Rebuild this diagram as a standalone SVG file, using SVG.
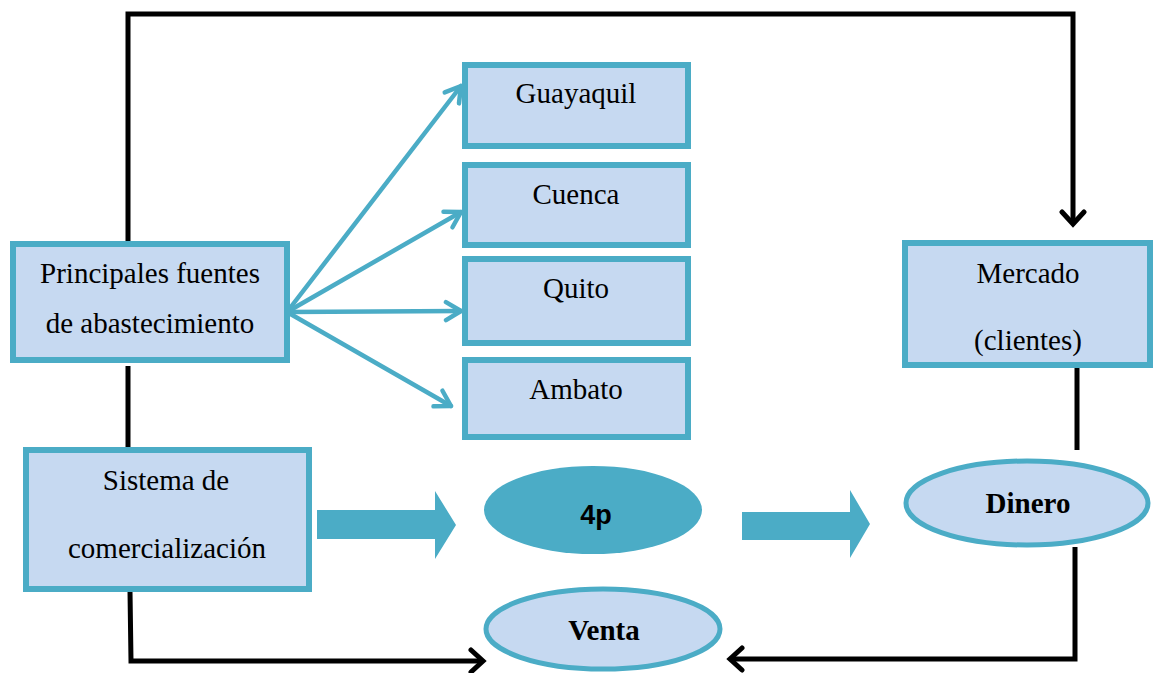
<svg xmlns="http://www.w3.org/2000/svg" width="1154" height="673" viewBox="0 0 1154 673">
  <style>
    .box { fill: #C6D9F1; stroke: #4BACC6; stroke-width: 6; }
    .oval { fill: #C6D9F1; stroke: #4BACC6; stroke-width: 5; }
    .lbl { font-family: "Liberation Serif", "Times New Roman", serif; font-size: 29px; fill: #000; text-anchor: middle; }
    .bold { font-weight: bold; font-size: 29px; }
    .sans { font-family: "Liberation Sans", Arial, sans-serif; font-weight: bold; font-size: 27px; fill: #000; text-anchor: middle; }
    .flow { fill: none; stroke: #000; stroke-width: 5; stroke-linejoin: miter; }
    .feed { fill: none; stroke: #4BACC6; stroke-width: 4.5; stroke-linecap: round; }
    .block { fill: #4BACC6; }
  </style>
  <defs>
    <marker id="blackHead" viewBox="-16 -14 20 28" markerWidth="20" markerHeight="28" refX="0" refY="0" orient="auto" markerUnits="userSpaceOnUse">
      <path d="M-12,-11 L0,0 L-12,11" fill="none" stroke="#000" stroke-width="5" stroke-linecap="round" stroke-linejoin="miter"/>
    </marker>
    <marker id="blueHead" viewBox="-18 -14 22 28" markerWidth="22" markerHeight="28" refX="0" refY="0" orient="auto" markerUnits="userSpaceOnUse">
      <path d="M-15,-9 L0,0 L-15,9" fill="none" stroke="#4BACC6" stroke-width="4.5" stroke-linecap="round" stroke-linejoin="round"/>
    </marker>
  </defs>

  <!-- connectors -->
  <g id="connectors">
    <!-- loop from sources over the top to the market -->
    <polyline class="flow" points="128,241 128,14 1073,14 1073,224" marker-end="url(#blackHead)"/>
    <!-- sources down to commercialisation system -->
    <line class="flow" x1="128" y1="366" x2="128" y2="449"/>
    <!-- commercialisation system to sale -->
    <polyline class="flow" points="130,591 131,661 483,661" marker-end="url(#blackHead)"/>
    <!-- market down to money -->
    <line class="flow" x1="1077" y1="367" x2="1077" y2="450"/>
    <!-- money back to sale -->
    <polyline class="flow" points="1075,547 1075,659 730,659" marker-end="url(#blackHead)"/>

    <!-- supply cities -->
    <line class="feed" x1="287" y1="312" x2="461" y2="86" marker-end="url(#blueHead)"/>
    <line class="feed" x1="287" y1="312" x2="461" y2="212" marker-end="url(#blueHead)"/>
    <line class="feed" x1="287" y1="312" x2="461" y2="311" marker-end="url(#blueHead)"/>
    <line class="feed" x1="287" y1="312" x2="451" y2="406" marker-end="url(#blueHead)"/>

    <!-- block arrows -->
    <polygon class="block" points="317,510 435,510 435,491 456,525 435,559 435,539 317,539"/>
    <polygon class="block" points="742,512 850,512 850,490 870,524 850,558 850,540 742,540"/>
  </g>

  <g id="fuentes">
    <rect class="box" x="13" y="244" width="274" height="116"/>
    <text class="lbl" x="150" y="283">Principales fuentes</text>
    <text class="lbl" x="150" y="333">de abastecimiento</text>
  </g>

  <g id="guayaquil">
    <rect class="box" x="465" y="65" width="223" height="81"/>
    <text class="lbl" x="576" y="103">Guayaquil</text>
  </g>

  <g id="cuenca">
    <rect class="box" x="465" y="165" width="223" height="80"/>
    <text class="lbl" x="576" y="204">Cuenca</text>
  </g>

  <g id="quito">
    <rect class="box" x="465" y="259" width="223" height="84"/>
    <text class="lbl" x="576" y="298">Quito</text>
  </g>

  <g id="ambato">
    <rect class="box" x="465" y="360" width="223" height="77"/>
    <text class="lbl" x="576" y="399">Ambato</text>
  </g>

  <g id="mercado">
    <rect class="box" x="905" y="243" width="245" height="122"/>
    <text class="lbl" x="1028" y="283">Mercado</text>
    <text class="lbl" x="1028" y="350">(clientes)</text>
  </g>

  <g id="sistema">
    <rect class="box" x="26" y="450" width="283" height="139"/>
    <text class="lbl" x="166" y="490">Sistema de</text>
    <text class="lbl" x="167" y="558">comercialización</text>
  </g>

  <g id="cuatro-p">
    <ellipse cx="593" cy="510" rx="109" ry="44" fill="#4BACC6"/>
    <text class="sans" x="596" y="524">4p</text>
  </g>

  <g id="dinero">
    <ellipse class="oval" cx="1027" cy="503" rx="121" ry="42"/>
    <text class="lbl bold" x="1028" y="513">Dinero</text>
  </g>

  <g id="venta">
    <ellipse class="oval" cx="603" cy="629" rx="117" ry="40"/>
    <text class="lbl bold" x="604" y="640">Venta</text>
  </g>
</svg>
